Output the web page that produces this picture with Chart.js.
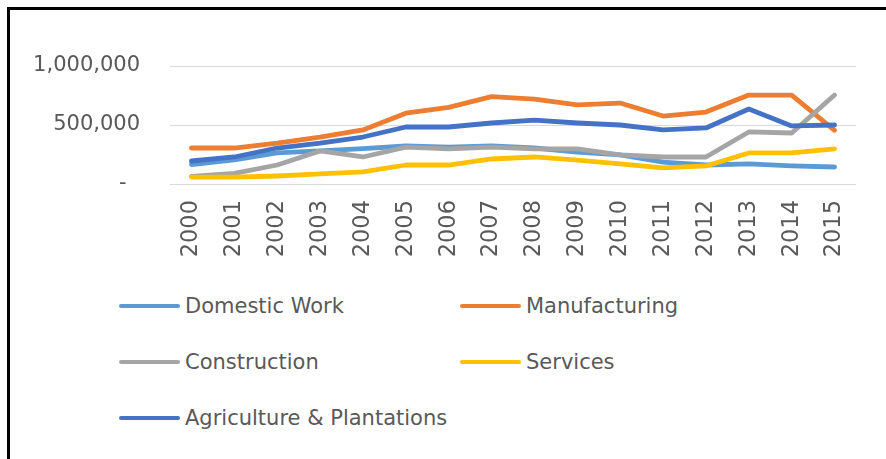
<!DOCTYPE html>
<html>
<head>
<meta charset="utf-8">
<script src="https://cdn.jsdelivr.net/npm/chart.js@4.4.1/dist/chart.umd.min.js"></script>
<style>
  html, body { margin: 0; padding: 0; background: #fff; }
  body { width: 886px; height: 459px; position: relative; overflow: hidden; }
  .frame {
    position: absolute; left: 7px; top: 7px; right: -10px; bottom: -10px;
    border-top: 3px solid #000; border-left: 3px solid #000;
  }
  #chart { position: absolute; left: 10px; top: 10px; }
  #legend {
    position: absolute; left: 119px; top: 278px;
    display: grid; grid-template-columns: 341px auto; grid-auto-rows: 56px;
    font-family: "DejaVu Sans", sans-serif; font-size: 21px; color: #595959;
  }
  .legend-item { display: flex; align-items: center; }
  .legend-color { display: inline-block; width: 61px; height: 4.5px; border-radius: 2px; margin-right: 5px; }
</style>
</head>
<body>
<div class="frame"></div>
<canvas id="chart" width="876" height="260"></canvas>
<div id="legend"></div>
<script>
const years = ["2000", "2001", "2002", "2003", "2004", "2005", "2006", "2007",
  "2008", "2009", "2010", "2011", "2012", "2013", "2014", "2015"];

const domesticWork = [165000, 205000, 263000, 280000, 300000, 322000, 313000, 322000,
  305000, 271000, 246000, 186000, 161000, 170000, 153000, 144000];
const manufacturing = [305000, 305000, 347000, 398000, 458000, 600000, 650000, 740000,
  720000, 670000, 686000, 576000, 610000, 754000, 754000, 455000];
const construction = [65000, 90000, 161000, 280000, 229000, 313000, 297000, 313000,
  297000, 297000, 246000, 229000, 229000, 441000, 432000, 754000];
const services = [59000, 59000, 68000, 85000, 102000, 161000, 161000, 212000,
  229000, 203000, 170000, 136000, 153000, 263000, 263000, 297000];
const agriculture = [195000, 229000, 305000, 347000, 398000, 483000, 483000, 517000,
  542000, 517000, 500000, 458000, 475000, 635000, 492000, 500000];

const yTicks = [0, 500000, 1000000];

const series = [
  { label: "Domestic Work", data: domesticWork, color: "#5B9BD5" },
  { label: "Manufacturing", data: manufacturing, color: "#ED7D31" },
  { label: "Construction", data: construction, color: "#A5A5A5" },
  { label: "Services", data: services, color: "#FFC000" },
  { label: "Agriculture & Plantations", data: agriculture, color: "#4472C4" },
];

// later series sit on top, like the original
const datasets = series.map((s, i) => ({
  label: s.label,
  data: s.data,
  borderColor: s.color,
  backgroundColor: s.color,
  borderWidth: 4.8,
  borderCapStyle: "round",
  borderJoinStyle: "round",
  pointRadius: 0,
  tension: 0,
  fill: false,
  order: series.length - i,
}));

const chart = new Chart(document.getElementById("chart"), {
  type: "line",
  data: { labels: years, datasets },
  options: {
    responsive: false,
    animation: false,
    layout: { padding: { top: 56, right: 30, left: 0, bottom: 0 } },
    plugins: { legend: { display: false }, tooltip: { enabled: false } },
    scales: {
      x: {
        offset: true,
        grid: { display: false, drawTicks: false },
        border: { display: false },
        ticks: {
          minRotation: 90,
          maxRotation: 90,
          padding: 16,
          color: "#595959",
          font: { family: "DejaVu Sans", size: 22.5 },
        },
        afterFit: (scale) => { scale.height = 86; },
      },
      y: {
        min: 0,
        max: 1000000,
        afterBuildTicks: (scale) => { scale.ticks = yTicks.map((v) => ({ value: v })); },
        grid: { color: "#D9D9D9", lineWidth: 1, drawTicks: false },
        border: { display: false },
        ticks: {
          padding: 30,
          color: "#595959",
          font: { family: "DejaVu Sans", size: 21 },
          callback: (v) => (v === 0 ? "-  " : v.toLocaleString("en-US")),
        },
        afterFit: (scale) => { scale.width = 160; },
      },
    },
  },
});

// html legend built from the chart's datasets
const legendEl = document.getElementById("legend");
chart.data.datasets.forEach((ds) => {
  const item = document.createElement("div");
  item.className = "legend-item";
  const sw = document.createElement("span");
  sw.className = "legend-color";
  sw.style.background = ds.borderColor;
  const txt = document.createElement("span");
  txt.textContent = ds.label;
  item.appendChild(sw);
  item.appendChild(txt);
  legendEl.appendChild(item);
});
</script>
</body>
</html>
